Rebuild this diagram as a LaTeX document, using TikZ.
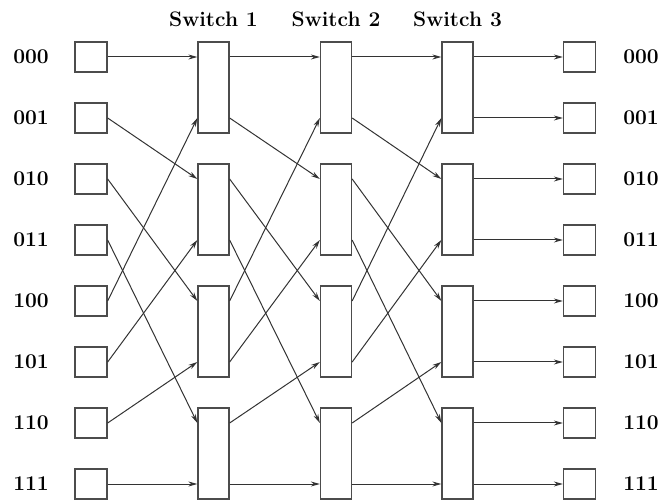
\documentclass[tikz,border=0pt]{standalone}
\usetikzlibrary{arrows.meta,positioning}
\tikzset{
  port/.style={draw=black!70,line width=1.3pt,minimum width=32pt,minimum height=30pt,inner sep=0pt},
  switchbox/.style={draw=black!70,line width=1.3pt,minimum width=31pt,minimum height=91pt,inner sep=0pt},
  wire/.style={draw=black!80,line width=1pt,-{Stealth[length=9pt,width=5pt]}},
  bits/.style={font=\fontsize{21}{25}\selectfont\bfseries},
}

\begin{document}
\begin{tikzpicture}[x=1pt,y=-1pt]
  \useasboundingbox (0,0) rectangle (664,502);
  % terminals and their addresses
  \foreach \b [count=\j from 0] in {000,001,010,011,100,101,110,111}{
    \node[port] (in\j) at (91,57+61*\j) {};
    \node[port] (out\j) at (579.5,57+61*\j) {};
    \node[bits] (lab\j) at (31,57+61*\j) {\b};
    \node[bits] (rlab\j) at (641,57+61*\j) {\b};
  }
  % three switch columns
  \foreach \k/\x in {1/213.5,2/336,3/457.5}{
    \foreach \m in {0,...,3}
      \node[switchbox] (s\k\m) at (\x,87.5+122*\m) {};
    \node[bits,above=11pt of s\k0] (title\k) {Switch \k};
  }
  % perfect shuffle between stages
  \foreach \j in {0,...,7}{
    \pgfmathtruncatemacro\p{\j==7 ? 7 : mod(2*\j,7)}
    \pgfmathtruncatemacro\src{\j/2}
    \pgfmathtruncatemacro\dst{\p/2}
    \draw[wire] (in\j.east) -- (s1\dst.west |- in\p);
    \draw[wire] (s1\src.east |- in\j) -- (s2\dst.west |- in\p);
    \draw[wire] (s2\src.east |- in\j) -- (s3\dst.west |- in\p);
    \draw[wire] (s3\src.east |- in\j) -- (out\j.west);
  }
\end{tikzpicture}
\end{document}
